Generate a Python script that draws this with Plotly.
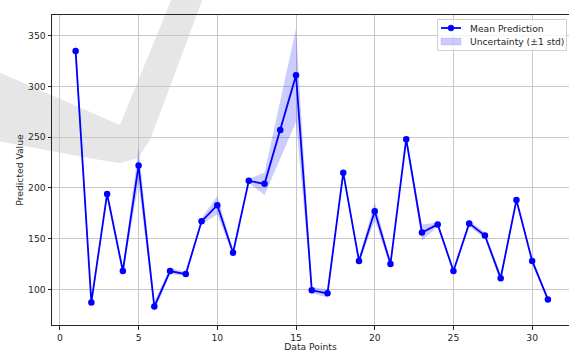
import plotly.graph_objects as go

# ---- data ----
x_points = list(range(1, 32))
mean_pred = [335, 87, 194, 118, 222, 83, 118, 115, 167, 183, 136, 207, 204, 257, 311,
             99, 96, 215, 128, 177, 125, 248, 156, 164, 118, 165, 153, 111, 188, 128, 90]
std_pred = [12, 3, 3, 3, 18, 5, 3, 2, 3, 9, 3, 2, 11, 28, 46,
            3, 4, 3, 3, 9, 3, 4, 8, 2, 2, 3, 3, 4, 2, 3, 2]
x_ticks = [0, 5, 10, 15, 20, 25, 30]
y_ticks = [100, 150, 200, 250, 300, 350]
series_names = ["Mean Prediction", "Uncertainty (±1 std)"]

upper = [m + s for m, s in zip(mean_pred, std_pred)]
lower = [m - s for m, s in zip(mean_pred, std_pred)]

FONT = "DejaVu Sans"
LINE_COLOR = "#0000ff"
FILL_COLOR = "rgba(0,0,255,0.2)"
fig = go.Figure()

fig.add_trace(go.Scatter(x=x_points, y=lower, mode="lines", line=dict(width=0, color="rgba(0,0,255,0)"),
                         showlegend=False, hoverinfo="skip"))
fig.add_trace(go.Scatter(x=x_points, y=upper, mode="lines", line=dict(width=0, color="rgba(0,0,255,0)"),
                         fill="tonexty", fillcolor=FILL_COLOR, showlegend=False,
                         name=series_names[1]))
fig.add_trace(go.Scatter(x=x_points, y=mean_pred, mode="lines+markers",
                         line=dict(color=LINE_COLOR, width=1.8),
                         marker=dict(color=LINE_COLOR, size=6.5),
                         showlegend=False, name=series_names[0]))

# pixel -> paper helpers (plot area in page pixels)
L, R, T, B = 52.0, 569.0, 15.0, 325.0
def px(p):
    return (p - L) / (R - L)
def py(p):
    return (B - p) / (B - T)

# decorative light-gray check mark overlay
pts = [(-2, 72), (120, 125), (172, -2), (203, -2), (150, 140), (138, 158), (120, 163), (100, 160), (-2, 141)]
path = "M " + " L ".join(f"{px(a):.4f},{py(b):.4f}" for a, b in pts) + " Z"
fig.add_shape(type="path", path=path, xref="paper", yref="paper",
              fillcolor="rgba(200,200,200,0.45)", line=dict(width=0), layer="below")

# legend (matplotlib style box)
fig.add_shape(type="rect", xref="paper", yref="paper", x0=px(437.5), x1=px(566.5), y0=py(50.5), y1=py(19.5),
              fillcolor="rgba(255,255,255,0.8)", line=dict(color="#d0d0d0", width=1), layer="above")
fig.add_shape(type="line", xref="paper", yref="paper", x0=px(441), x1=px(461), y0=py(28), y1=py(28),
              line=dict(color=LINE_COLOR, width=1.8), layer="above")
fig.add_shape(type="circle", xref="paper", yref="paper", x0=px(448), x1=px(454), y0=py(31), y1=py(25),
              fillcolor=LINE_COLOR, line=dict(color=LINE_COLOR, width=0.5), layer="above")
fig.add_shape(type="rect", xref="paper", yref="paper", x0=px(441), x1=px(461), y0=py(45), y1=py(38),
              fillcolor=FILL_COLOR, line=dict(color=FILL_COLOR, width=0.5), layer="above")
for name, yy in zip(series_names, [28, 42]):
    fig.add_annotation(text=name, xref="paper", yref="paper", x=px(467.5), y=py(yy),
                       xanchor="left", yanchor="middle", showarrow=False,
                       font=dict(family=FONT, size=9.2, color="#262626"))

fig.update_layout(
    width=569, height=352,
    margin=dict(l=52, r=0, t=15, b=27),
    paper_bgcolor="white", plot_bgcolor="white",
    font=dict(family=FONT, size=9.2, color="#262626"),
    showlegend=False,
)
fig.update_xaxes(range=[-0.5, 32.34], tickvals=x_ticks, ticks="outside", ticklen=3.5,
                 tickcolor="#262626", showline=True, linecolor="#262626", linewidth=1,
                 mirror=True, showgrid=True, gridcolor="#c8c8c8", gridwidth=1, zeroline=False,
                 title=dict(text="Data Points", standoff=7, font=dict(size=9.2)), automargin=False)
fig.update_yaxes(range=[64.8, 370.5], tickvals=y_ticks, ticks="outside", ticklen=3.5,
                 tickcolor="#262626", showline=True, linecolor="#262626", linewidth=1,
                 showgrid=True, gridcolor="#c8c8c8", gridwidth=1, zeroline=False,
                 title=dict(text="Predicted Value", standoff=2, font=dict(size=9.2)), automargin=False)

fig.write_html("out.html", config={"displayModeBar": False},
               post_script="document.body.style.margin='0';document.body.style.overflow='hidden';")
